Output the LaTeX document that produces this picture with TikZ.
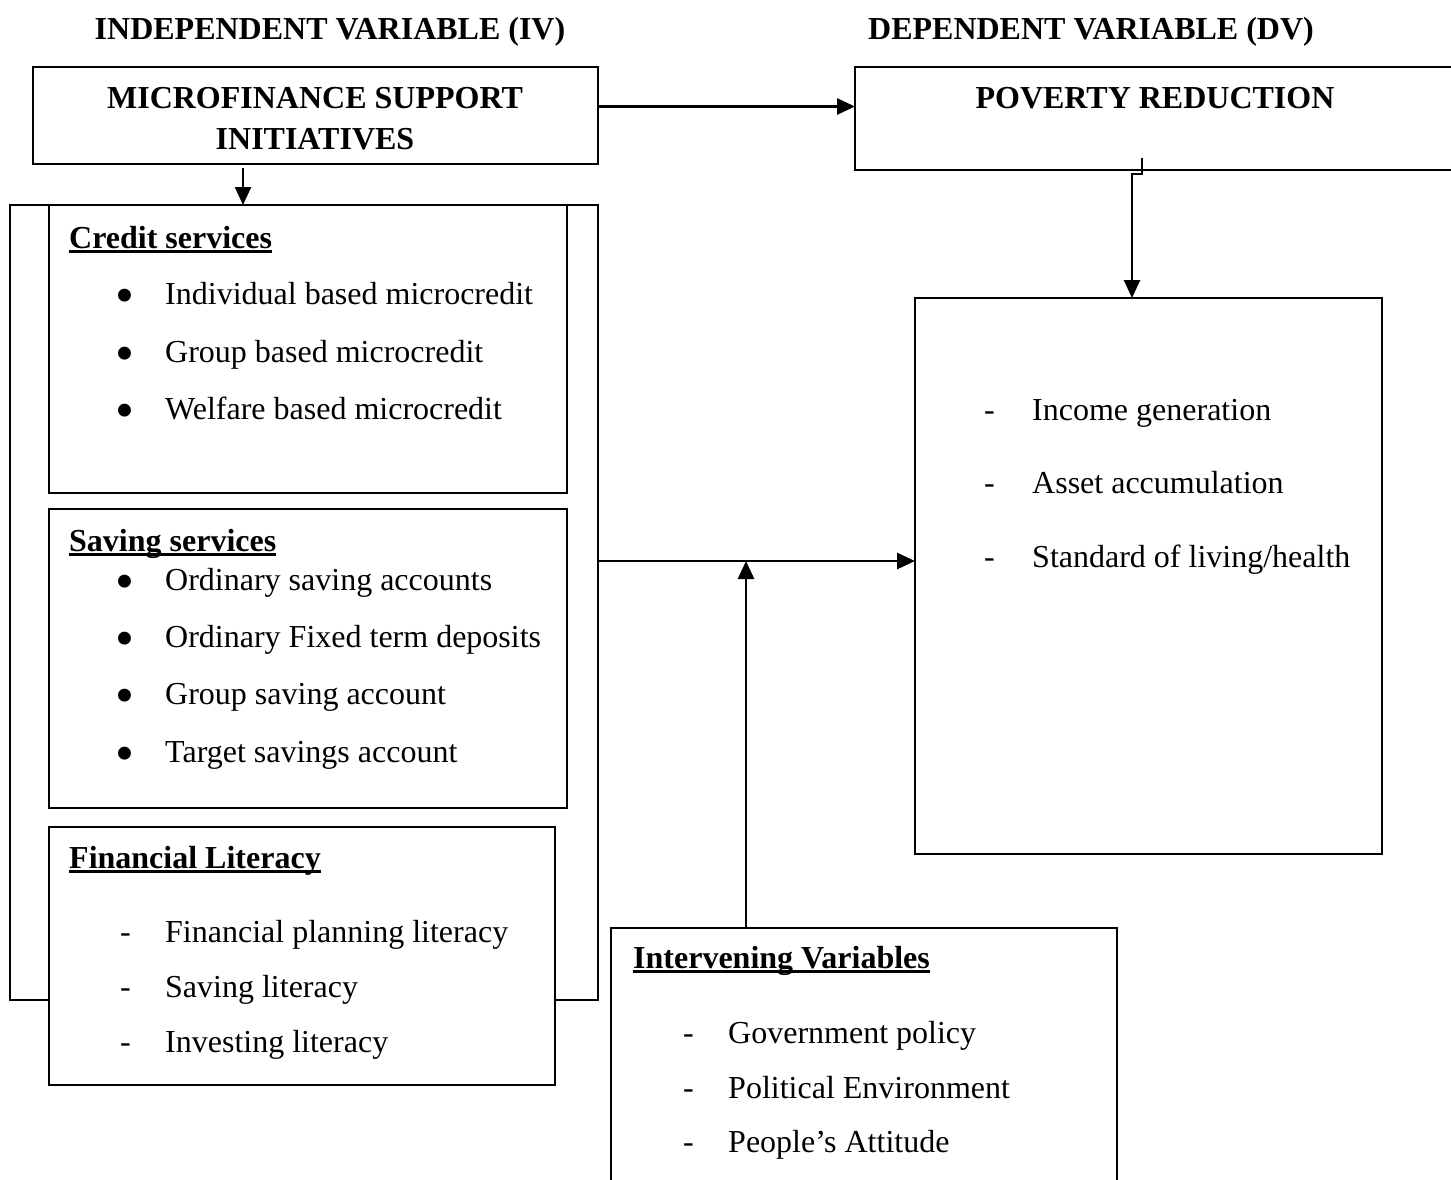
\documentclass[tikz,border=0pt]{standalone}
\usepackage{fontspec}
\setmainfont{Liberation Serif}
\usetikzlibrary{arrows.meta}
\newcommand{\ulbf}[1]{\sbox0{\bfseries #1}\rlap{\rule[-5pt]{\wd0}{3pt}}\usebox0}
\newcommand{\bigbul}{{\fontsize{54}{54}\selectfont\textbullet}}
\begin{document}
\begin{tikzpicture}[x=1pt,y=-1pt,
  font=\fontsize{32}{38}\selectfont,
  box/.style={draw, line width=1.8pt, fill=white, inner sep=0pt, outer sep=0pt, anchor=north west},
  arr/.style={line width=2.8pt, -{Triangle[length=18pt,width=16pt]}},
  txt/.style={anchor=base west, inner sep=0pt},
  hdr/.style={anchor=base, inner sep=0pt, font=\fontsize{32}{38}\selectfont\bfseries},
  bul/.style={anchor=center, inner sep=0pt}]
\useasboundingbox (0,0) rectangle (1451,1179);
\clip (0,0) rectangle (1451,1179);

% headers
\node[hdr] (hiv) at (330,39) {INDEPENDENT VARIABLE (IV)};
\node[hdr] (hdv) at (1091,39) {DEPENDENT VARIABLE (DV)};

% top boxes
\node[box, minimum width=565pt, minimum height=97pt] (msi) at (33,67) {};
\node[hdr] (msit1) at (315,108) {MICROFINANCE SUPPORT};
\node[hdr] (msit2) at (315,149) {INITIATIVES};
\node[box, minimum width=640pt, minimum height=103pt] (pov) at (855,67) {};
\node[hdr] (povt) at (1155,108) {POVERTY REDUCTION};

% left group
\node[box, minimum width=588pt, minimum height=795pt] (outer) at (10,205) {};
\node[box, minimum width=518pt, minimum height=288pt] (credit) at (49,205) {};
\node[box, minimum width=518pt, minimum height=299pt] (saving) at (49,509) {};
\node[box, minimum width=506pt, minimum height=258pt] (fin) at (49,827) {};

% right boxes
\node[box, minimum width=467pt, minimum height=556pt] (items) at (915,298) {};
\node[box, minimum width=506pt, minimum height=300pt] (interv) at (611,928) {};

% credit services
\node[txt] (ct) at (69,248) {\ulbf{Credit services}};
\node[bul] (cb1) at (125,301) {\bigbul};
\node[txt] (c1) at (165,304) {Individual based microcredit};
\node[bul] (cb2) at (125,359) {\bigbul};
\node[txt] (c2) at (165,362) {Group based microcredit};
\node[bul] (cb3) at (125,416) {\bigbul};
\node[txt] (c3) at (165,419) {Welfare based microcredit};

% saving services
\node[txt] (st) at (69,551) {\ulbf{Saving services}};
\node[bul] (sb1) at (125,587) {\bigbul};
\node[txt] (s1) at (165,590) {Ordinary saving accounts};
\node[bul] (sb2) at (125,644) {\bigbul};
\node[txt] (s2) at (165,647) {Ordinary Fixed term deposits};
\node[bul] (sb3) at (125,701) {\bigbul};
\node[txt] (s3) at (165,704) {Group saving account};
\node[bul] (sb4) at (125,759) {\bigbul};
\node[txt] (s4) at (165,762) {Target savings account};

% financial literacy
\node[txt] (ft) at (69,868) {\ulbf{Financial Literacy}};
\node[txt] (fd1) at (120,942) {-};
\node[txt] (f1) at (165,942) {Financial planning literacy};
\node[txt] (fd2) at (120,997) {-};
\node[txt] (f2) at (165,997) {Saving literacy};
\node[txt] (fd3) at (120,1052) {-};
\node[txt] (f3) at (165,1052) {Investing literacy};

% poverty items
\node[txt] (pd1) at (984,420) {-};
\node[txt] (p1) at (1032,420) {Income generation};
\node[txt] (pd2) at (984,493) {-};
\node[txt] (p2) at (1032,493) {Asset accumulation};
\node[txt] (pd3) at (984,567) {-};
\node[txt] (p3) at (1032,567) {Standard of living/health};

% intervening
\node[txt] (it) at (633,968) {\ulbf{Intervening Variables}};
\node[txt] (id1) at (683,1043) {-};
\node[txt] (i1) at (728,1043) {Government policy};
\node[txt] (id2) at (683,1098) {-};
\node[txt] (i2) at (728,1098) {Political Environment};
\node[txt] (id3) at (683,1152) {-};
\node[txt] (i3) at (728,1152) {People’s Attitude};

% connectors
\coordinate (a) at ([yshift=9pt]msi.east);
\draw[arr] (a) -- (a -| pov.west);
\coordinate (b) at (243,168);
\draw[arr, line width=2.3pt] (b) -- (b |- outer.north);
\coordinate (c1) at (1142,158);
\draw[arr, line width=2.5pt] (c1) -- ++(0,16) -- ++(-10,0) coordinate (c2) -- (c2 |- items.north);
\coordinate (h) at (0,561);
\draw[arr] (outer.east |- h) -- (items.west |- h);
\coordinate (v) at (746,0);
\draw[arr] (v |- interv.north) -- (v |- h);
\end{tikzpicture}
\end{document}
